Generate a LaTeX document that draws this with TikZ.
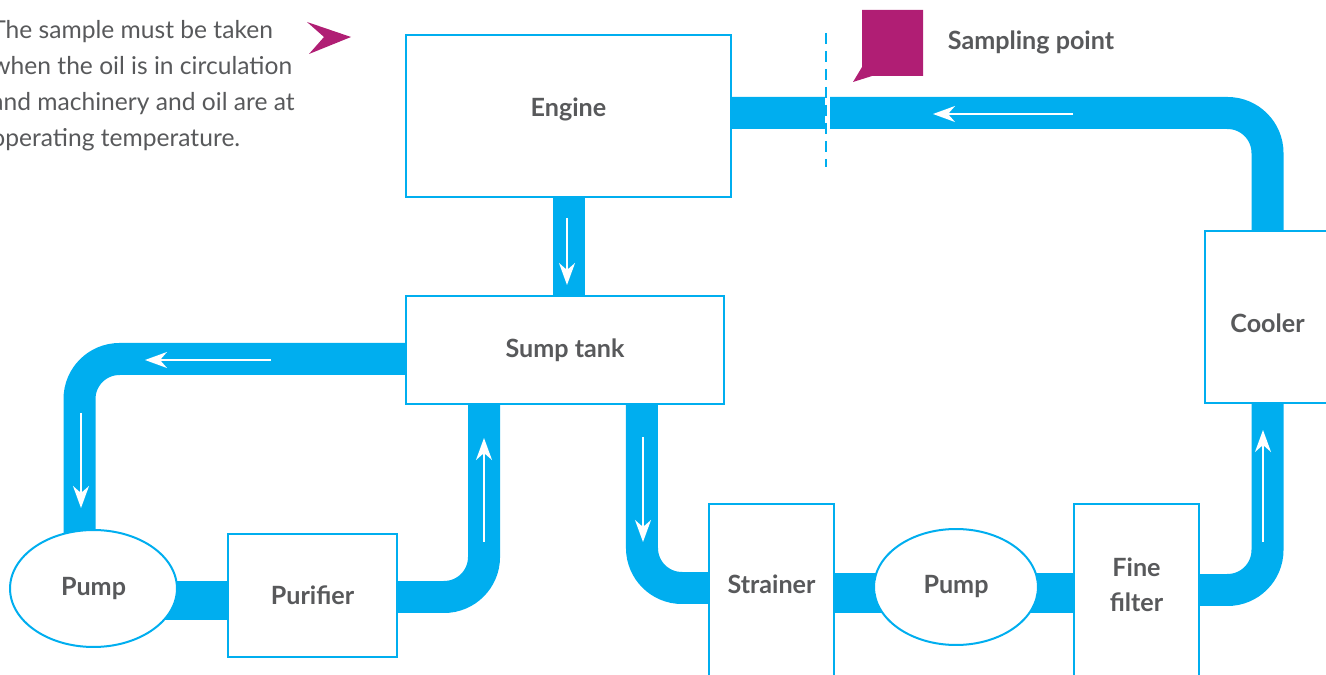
\documentclass[tikz,border=0pt]{standalone}
\usepackage{fontspec}
\setmainfont{Lato}
\usepackage{xcolor}
\usetikzlibrary{arrows.meta}
\usetikzlibrary{shapes.geometric}
\usetikzlibrary{backgrounds}

\definecolor{pipeblue}{HTML}{00AEEF}
\definecolor{labelgrey}{HTML}{58595B}
\definecolor{flagpink}{HTML}{B01E74}

\begin{document}
\begin{tikzpicture}[x=0.02cm,y=-0.02cm,
    unitfont/.style={text=labelgrey,font=\bfseries\fontsize{14.3}{20}\selectfont},
    unit/.style={draw=pipeblue,line width=0.04cm,fill=white,unitfont,align=center,inner sep=0pt},
    pumpunit/.style={unit,ellipse},
    pipe/.style={draw=pipeblue,line width=0.64cm,rounded corners=0.8cm},
    link/.style={draw=pipeblue,line width=0.8cm},
    flow/.style={draw=white,line width=0.03cm,
      -{Stealth[length=0.44cm,width=0.32cm,inset=0.14cm]}}]
    \useasboundingbox (0,0) rectangle (1326,675);
    \clip (0,0) rectangle (1326,675);

    % units
    \node[unit,minimum width=6.5cm,minimum height=3.24cm,
      label={[yshift=0.14cm,unitfont]center:Engine}] (engine) at (568.5,116) {};
    \node[unit,minimum width=6.36cm,minimum height=2.16cm] (sump) at (565,350) {Sump tank};
    \node[unit,minimum width=2.5cm,minimum height=3.44cm,
      label={[yshift=-0.12cm,unitfont]center:Cooler}] (cooler) at (1267.5,317) {};
    \node[pumpunit,minimum width=3.34cm,minimum height=2.34cm] (pumpA) at (93.5,588.5) {Pump};
    \node[unit,minimum width=3.38cm,minimum height=2.46cm] (purifier) at (312.5,595.5) {Purifier};
    \node[unit,minimum width=2.5cm,minimum height=3.8cm,
      label={[yshift=0.3cm,unitfont]center:Strainer}]
      (strainer) at (771.5,599) {};
    \node[pumpunit,minimum width=3.28cm,minimum height=2.32cm] (pumpB) at (956,587) {Pump};
    \node[unit,minimum width=2.5cm,minimum height=3.8cm,
      label={[yshift=0.28cm,unitfont,align=center]center:Fine\\filter}]
      (filter) at (1136.5,599) {};

    % oil lines
    \begin{scope}[on background layer]
      \draw[pipe] ([yshift=0.06cm]engine.center) -| (cooler.center);
      \draw[pipe] (engine.center) -- (engine.center |- sump.center);
      \draw[pipe] ([yshift=-0.18cm]sump.center) -| ([xshift=-0.28cm]pumpA.center);
      \draw[link] ([yshift=-0.24cm]pumpA.center) -- ([yshift=-0.24cm]pumpA.center -| purifier.center);
      \draw[pipe] ([yshift=-0.03cm]purifier.center) -| ([xshift=-1.62cm]sump.center);
      \draw[pipe] ([xshift=1.54cm]sump.center) |- ([yshift=0.22cm]strainer.center);
      \draw[link] ([yshift=0.12cm]strainer.center) -- ([yshift=0.12cm]strainer.center -| filter.center);
      \draw[pipe] ([yshift=0.18cm]filter.center) -| (cooler.center);
    \end{scope}

    % direction of flow
    \draw[flow] (1073,114) -- (933,114);
    \draw[flow] (567,218) -- (567,285);
    \draw[flow] (271,360) -- (145,360);
    \draw[flow] (81,413) -- (81,508);
    \draw[flow] (484,542) -- (484,438);
    \draw[flow] (643,437) -- (643,542);
    \draw[flow] (1263,542) -- (1263,430);

    % sampling point
    \draw[white,line width=0.1cm] (827,96) -- (827,131);
    \draw[pipeblue,line width=0.04cm,dash pattern=on 0.22cm off 0.14cm] (826,33) -- (826,167);
    \fill[flagpink] (862,10) -- (923,10) -- (923,76) -- (872,76) -- (853,82) -- (862,67) -- cycle;
    \node[unitfont] (samplelabel) at (1031,42) {Sampling point};

    \node[anchor=north west,align=left,inner sep=0pt,text=labelgrey,
      font=\fontsize{14}{20.5}\selectfont] (note) at (-9,20)
      {The sample must be taken\\when the oil is in circulation\\and machinery and oil are at\\operating temperature.};
    \fill[flagpink] (307,22) -- (351,37) -- (309,54) -- (324,37) -- cycle;
\end{tikzpicture}
\end{document}
